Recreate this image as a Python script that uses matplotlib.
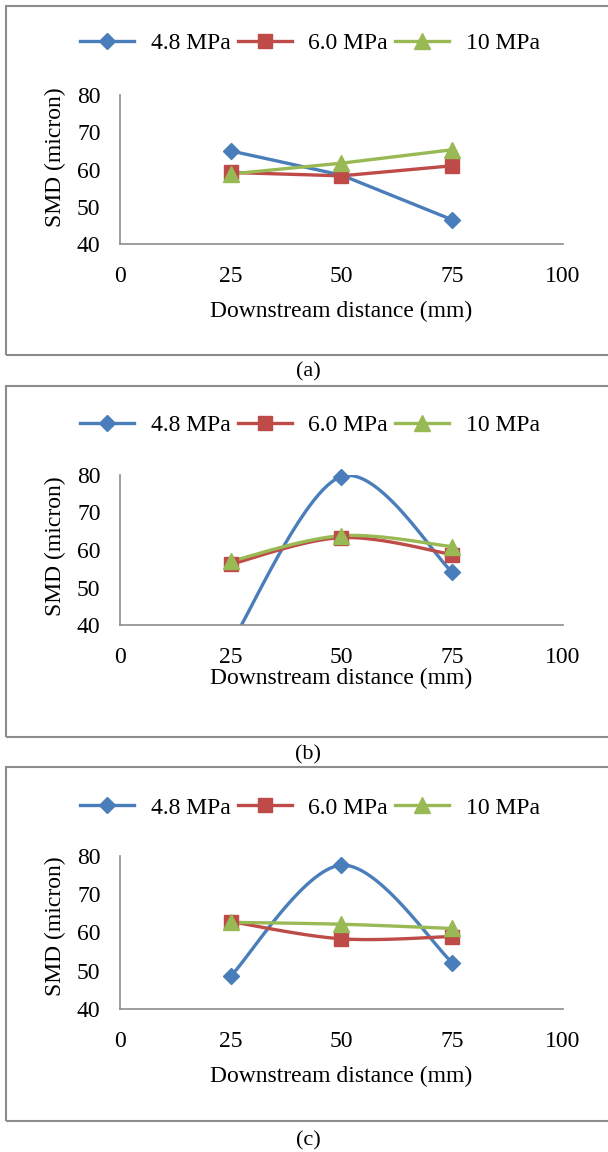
import numpy as np
import matplotlib.pyplot as plt
from matplotlib.lines import Line2D
from matplotlib.patches import Rectangle

# Data
distance = [25, 50, 75]
series_names = ['4.8 MPa', '6.0 MPa', '10 MPa']

smd_a_48 = [65.0, 58.5, 46.5]
smd_a_60 = [59.2, 58.3, 61.0]
smd_a_10 = [58.8, 61.7, 65.3]

smd_b_48 = [35.0, 79.6, 54.1]
smd_b_60 = [56.2, 63.3, 58.8]
smd_b_10 = [57.0, 63.8, 60.9]

smd_c_48 = [48.6, 77.5, 52.1]
smd_c_60 = [62.8, 58.3, 58.9]
smd_c_10 = [62.6, 62.1, 61.0]

xticks = [0, 25, 50, 75, 100]
yticks = [40, 50, 60, 70, 80]

colors = ['#4A7EBB', '#BE4B48', '#98B954']
markers = ['D', 's', '^']
msizes = [8, 10, 11]

plt.rcParams['font.family'] = ['Liberation Serif', 'DejaVu Serif']

W, H = 608, 1152
FS = 17
fig = plt.figure(figsize=(W / 100, H / 100), dpi=100)


def smooth(x, y, n=60):
    # Excel-style smoothed line: cubic Bezier with 1/6 neighbour tangents
    x = np.asarray(x, float)
    y = np.asarray(y, float)
    px = np.concatenate([[x[0]], x, [x[-1]]])
    py = np.concatenate([[y[0]], y, [y[-1]]])
    t = np.linspace(0, 1, n)[:, None]
    xs, ys = [], []
    for i in range(len(x) - 1):
        p0 = np.array([x[i], y[i]])
        p3 = np.array([x[i + 1], y[i + 1]])
        p1 = p0 + (np.array([px[i + 2], py[i + 2]]) - np.array([px[i], py[i]])) / 6
        p2 = p3 - (np.array([px[i + 3], py[i + 3]]) - np.array([px[i + 1], py[i + 1]])) / 6
        b = ((1 - t) ** 3) * p0 + 3 * t * (1 - t) ** 2 * p1 + 3 * t ** 2 * (1 - t) * p2 + t ** 3 * p3
        xs.append(b[:, 0])
        ys.append(b[:, 1])
    return np.concatenate(xs), np.concatenate(ys)


def panel(box_top, box_bot, ax_top, ax_bot, data, smoothed, caption, cap_y,
          xl_pad, leg_y, ylab_y):
    fig.patches.append(Rectangle((6 / W, 1 - box_bot / H), 700 / W, (box_bot - box_top) / H,
                                 transform=fig.transFigure, fill=False,
                                 edgecolor='#8c8c8c', lw=1.5))
    ax = fig.add_axes([120 / W, 1 - ax_bot / H, (563 - 120) / W, (ax_bot - ax_top) / H])
    for vals, c, m, ms in zip(data, colors, markers, msizes):
        if smoothed:
            sx, sy = smooth(distance, vals)
        else:
            sx, sy = distance, vals
        ax.plot(sx, sy, color=c, lw=2.4, solid_capstyle='round', zorder=2)
        keep = [(d, v) for d, v in zip(distance, vals) if 40 <= v <= 80]
        ax.plot([k[0] for k in keep], [k[1] for k in keep], ls='none', marker=m,
                ms=ms, color=c, clip_on=False, zorder=3)
    ax.set_xlim(0, 100)
    ax.set_ylim(40, 80)
    ax.set_xticks(xticks)
    ax.set_yticks(yticks)
    ax.tick_params(length=0, labelsize=FS)
    ax.tick_params(axis='x', pad=16)
    ax.tick_params(axis='y', pad=14)
    for s in ['top', 'right']:
        ax.spines[s].set_visible(False)
    for s in ['left', 'bottom']:
        ax.spines[s].set_color('#8c8c8c')
        ax.spines[s].set_linewidth(1.2)
    ax.set_xlabel('Downstream distance (mm)', fontsize=FS, labelpad=xl_pad)
    ax.set_ylabel('SMD (micron)', fontsize=FS)
    ax.yaxis.set_label_coords(-0.122, ylab_y)
    handles = [Line2D([], [], color=c, lw=2.4, marker=m, ms=ms)
               for c, m, ms in zip(colors, markers, msizes)]
    fig.legend(handles, series_names, loc='center', ncol=3,
               bbox_to_anchor=(310 / W, 1 - leg_y / H), frameon=False,
               fontsize=FS, handlelength=2.3, handletextpad=0.7,
               columnspacing=0.3)
    fig.text(308 / W, 1 - cap_y / H, caption, ha='center', va='center', fontsize=16)


panel(6, 355, 95, 244, [smd_a_48, smd_a_60, smd_a_10], False, '(a)', 372, 10, 43, 0.58)
panel(386, 737, 475, 625, [smd_b_48, smd_b_60, smd_b_10], True, '(b)', 755, 0, 425, 0.527)
panel(767, 1121, 855.6, 1009, [smd_c_48, smd_c_60, smd_c_10], True, '(c)', 1141, 10, 808, 0.54)

fig.savefig('out.png', dpi=100)
